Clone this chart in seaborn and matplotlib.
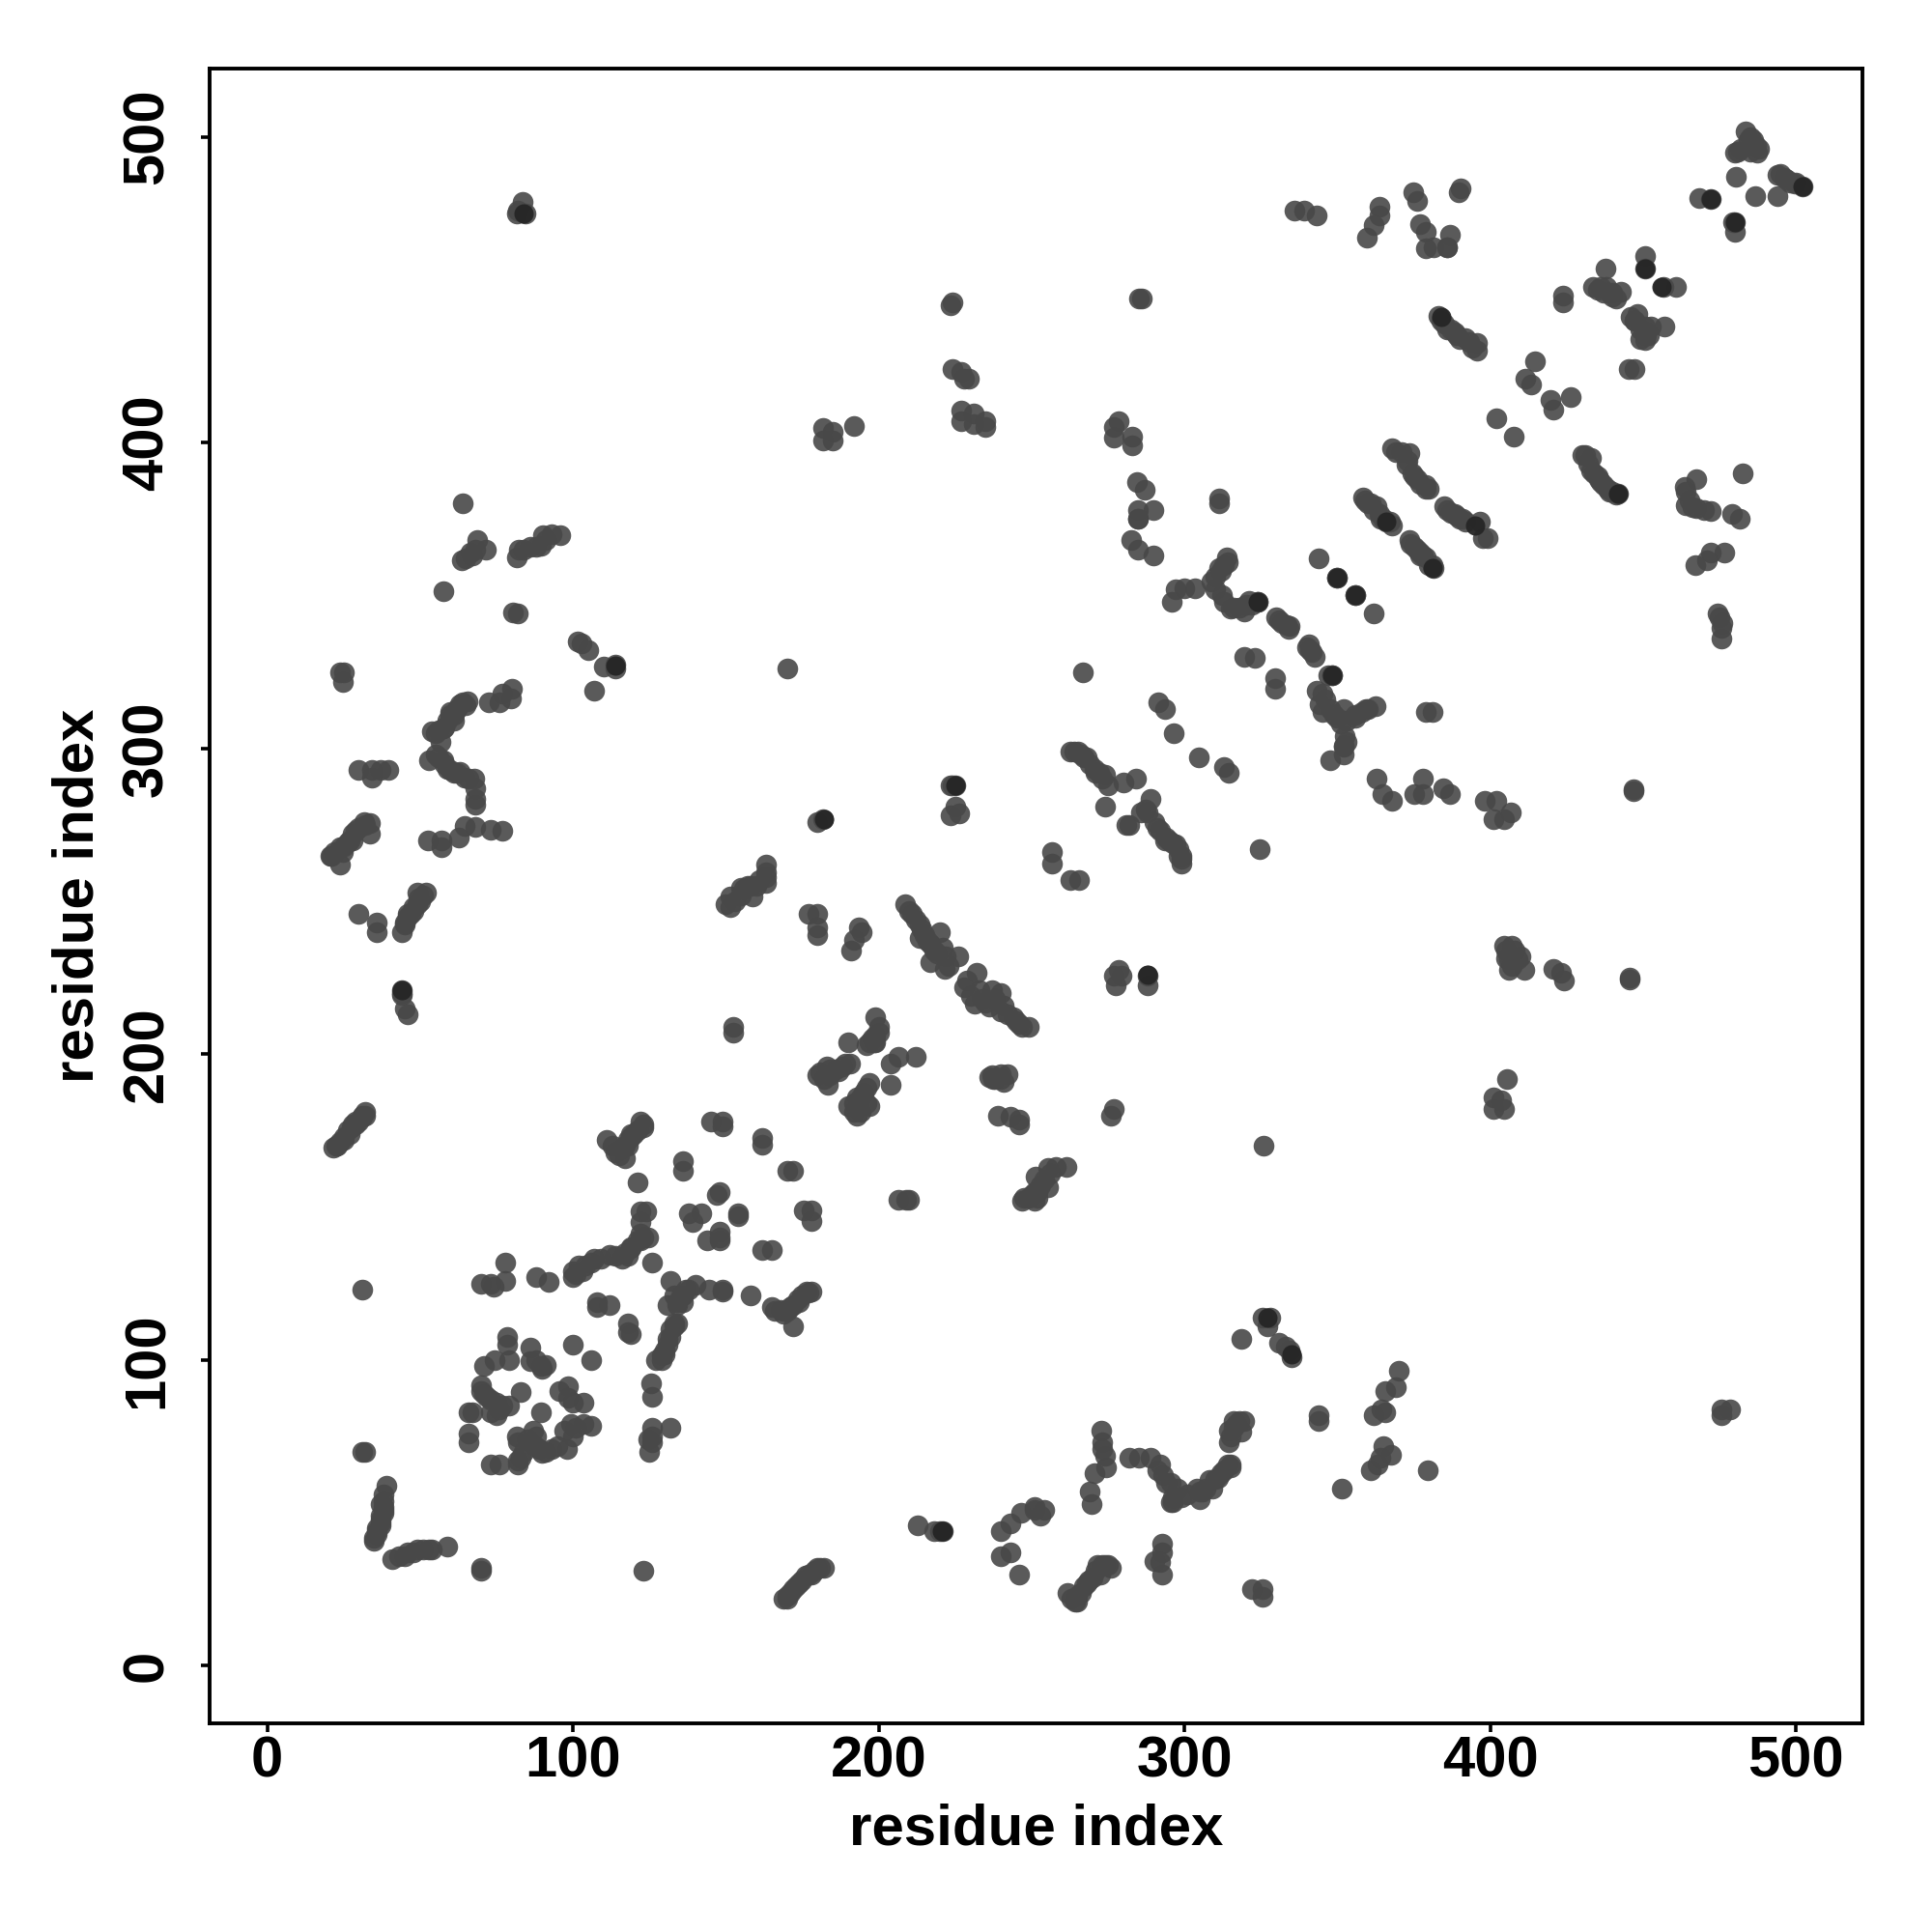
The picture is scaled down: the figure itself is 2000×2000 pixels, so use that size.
import matplotlib
matplotlib.use("Agg")
import matplotlib.pyplot as plt
import pandas as pd
import seaborn as sns

# contacts, (residue i, residue j), grouped by region
contacts_lower_left = [
(39,59),(38,56),(38,54),(38,52),(38,50),(37,53),(37,48),(37,46),(36,44),(35,42),(35,41),
(41,35),(43,36),(45,36),(46,37),(48,37),(49,38),(51,38),(53,38),(54,38),(59,39),
(70,31),(70,32),(31,70),(32,70),(123,31),(31,123),
(78,132),(70,125),(73,125),(78,126),(74,124),(88,127),(92,125.5),
(100,129),(100,127),(102,131),(107,133),(112,134.5),(118,134),(119,136.5),(121,139),(124.5,140),(126,132),
(122,148.5),(124,148.5),(122,145),(122,141.5),(121,158),
(111,172),(116,169),(117,166),(118,172),(120,174),(122,178),(123,176),(119,173),(123,177),
(149,178),(145,178),(149,176.5),(162,172.5),(162,170.5),(136,165),(136,162),(172,162),(170,162),
(148,155),(147,154),(154,148),(154,147),(138,148),(142,148),(139,145),(148,142),(148,139),(144,139),(148,140),
(162,136),(165,136),(178,149),(175.5,149),(178,145.5),
(209,152.5),(206.5,152.5),(210,152.5),
(132,126),(133,121),(131,118),(134,119),(135.5,121),(137,123),(140,124.5),(144.5,123),(149,122.5),(149,123),(158,121),
(134,112),(133,112),(132,107.5),(131,105),(129,101.5),(127,100),(130,102),
(125.5,92.5),(126,88),(132,78),(126,78),(124.5,74),(126,73),(125,70),(126,75),
(108,119),(108,117.5),(112,118),(118,112),(119,108.5),(118,109),
(165,117.5),(168,116.5),(169,115),(171,117.5),(173.5,120),(176.5,122.5),(178,122.5),(172,111),
(78.5,107.7),(78.5,105),(79,100),(74.5,100),(71,98),(70,91.7),(71,89),(75,86),(79,85),(83,89.5),
(66,83),(67,83),(75,82),(73,83),(66,76),(66,73),(73,66),(76,66),(82,67),(82,66),
(81.5,75),(82,73),(87,77),(89.5,83),(87.5,72),(90,69.5),(93,71),(98,71),(100,75),(99.5,79),(103.5,79),(106,78.5),
(86,104),(86,99.5),(89.5,98),(91,98.5),(100,105),(106,100),(95.5,90),(98.5,91.5),(98.5,87.5),(103.5,86),(100,86),
]

contacts_centre = [
(199,212),(200,207),(197,204),(198.5,204),(190,204),(206.5,199),(204,197),(212,199),(204,190),
(190.5,197),(187,194.5),(183,196),(180,193),(183.5,190),(197,190.5),(195,187.5),(193,186),(197,183),(190,183),(193,180),(192,184),
(240,193.5),(236,192.5),(242,193.5),(237.5,192),(239,180),(243,179.5),(246,178.5),(246,177),
(247.5,153),(251,152),(251.4,160),(250,154),(252,155),(255.5,162.7),(258,163),(261.3,163),(255.5,156.5),
(277,182),(276,180),
(177,246),(180,246),(180,241.5),(180,239),(193.5,241.5),(194.5,240),(192,237.5),(191,234),
(208.7,249),(211,246),(213.5,242.5),(213.5,238),(217,236),(217,230),(220,240),(221,235),(221.5,228),(226,232),
(232,226.5),(228,222),(231.5,216.5),(233,221),(237,221),(240,220),(236,215.5),(240,214),(244,212),(249,209),(246,210),
(152.5,209),(152.5,207),(44,221),(44,220),(44,219.5),(45,215),(46,213),
(30,246),(36,243),(36,240),(49.5,251),(46,246),(44,240),(48,248),(52,253),(45,242.5),
(21.6,169.4),(24,171.5),(26.5,175),(29,178),(32,181),(31,179.5),(27.5,176),
(212.7,46),(220,44),(221,44),(218,44),
(169,22),(171,24),(174,27),(176,29.6),(180,32),(182,32),(178,30),
(240,44),(243,46.5),(246.5,50),(251,52),(240,36),(243,37),(246,30),(251,51),(254,51),(253,49),
]

contacts_lower_right = [
(279.5,225.7),(277,225.7),(277.6,222.5),(288,225.7),(288,222.5),(278.5,227.5),
(404.5,235.5),(407,235.5),(406,227.5),(410,232),(411,227.5),(405,231.5),(420.5,228),(423,226.5),(424,224),(445.5,225),(445.5,224.5),
(405.5,192),(401,186),(401,182),(404.5,182),(403.5,185),(326,170),
(325.5,114),(328,114),(327,111),(318.6,107),(331,105.5),(333,104.5),(334.5,103),(335,101),(344,82),(344,80),
(370,96.5),(369,91),(365.5,90),(364.5,84),(362,82),(365.5,83),(365,72),(367.5,69),(363,66),(361,64),(364,68),
(379.7,64),(351.3,58),(475.5,84),(475.5,82),(478.5,84),
(272.7,77),(273,73),(274,68.7),(274.5,65),(270.6,63),(273,71),
(282,68),(285,68),(289,68),(291,64),(293,62.5),(295.4,60),(297.7,58),(295.4,53.6),(296.3,53.6),
(304,58),(305,54.5),(308,60.7),(311,61.5),(314,66),(315,66),(306,57),(309,58),
(314.6,73),(314.6,77),(316,80),(319.4,80),(318.5,76.6),(269,57),(269.7,53),
(292.7,40),(292.7,37),(292,34),(292.7,30),(290,34.4),
(261.7,24),(264.4,21),(266,24),(268.8,28),(271.5,33),(274,33),(276,32),(272.3,30),
(322,25),(325.5,25),(325.5,22.5),
]

contacts_upper_left = [
(83.7,478.7),(82,476),(84.5,475),(81.5,475),(224,446),(223.4,445),
(224,424),(227,423),(228,421),(229.6,421),(227,410.4),(227,407),(231,409.5),(231,406),(235,407),(235,405),
(181.7,404.7),(185,403.6),(181.7,400.6),(185,400.6),(192,405.4),
(64,380),(68.7,368),(71.7,365),(66.4,364),(63.7,361.6),(65,362),
(82.3,365),(81.8,362.5),(89.4,366.4),(90.3,369.6),(96,369.6),(93,370),
(57.8,351.5),(80.5,344.4),(82,344),(101.5,335),(102.7,334.5),(105,332),(110,326.7),(114,327.4),(114,326),
(106.8,319),(170,326),(23.8,325),(25,325),(24.8,321.7),
(80,319.5),(77,318),(79.7,316.4),(76,315),(72.6,315),
(65.5,315.5),(63,314.6),(60,312),(61,309),(57.5,306.6),(54,305.7),(56.6,302),
(53,296),(57.5,296),(59,293.3),(63,292.4),(64.6,290.6),(67.8,290),(68,283.5),(68,281.7),
(30,293),(34.4,293),(34.4,290.6),(37,293),(39.7,293),
(52.7,270),(57,270),(57,267.6),(62.8,270.8),(64.6,274.7),(68,274.3),(73,273.4),(77,273),
(31.8,276),(33.5,275.5),(33.5,272),(29,273),(26.4,269.4),(23.8,267.6),(20.6,265),(24,262),(24.7,266),
(163,262),(163,259.6),(163,256),(157,255),(151.5,251.6),(151.5,248),(155,254.3),(158.6,251.6),
(224,288),(225,288),(223.4,288),(181.7,276.8),(180,276),(225,281),(223.4,278),(226.4,278.8),
]

contacts_upper_right = [
(483.5,501.8),(486,497.3),(487.4,494.7),(480,494.7),(484.4,499),
(480.3,487),(494,487.6),(496,486.7),(499.5,484.6),(502,483.7),(494,480.5),(486.7,480.5),
(468.4,480),(472,479.6),(479.4,472),(480,472),(480,469),
(450.7,461),(450.7,457),(456.5,451),(460.8,451),
(437.7,457),(433.5,451),(438,451),(440,447.7),(442.7,449.4),(423.7,448),(423.7,446),
(448,442),(447,439.7),(450.7,438),(457,438),(452.4,438),(450.7,433.5),(445.3,424),(447,424),
(383,441.4),(385,438.8),(388.5,436),(392,434.3),(395.7,432.6),(395.7,430),
(414.6,426.7),(411.6,421),(413.4,419),(419.6,414),(420.5,410.8),(426.4,415),(401.9,408),(407.7,402),
(368,398.3),(373.5,396.6),(374.4,390),(377,386.4),(378.8,385),(372.6,392.7),
(358.4,382),(362.8,379.3),(363.7,376.7),(367.3,374),(361,380),
(385,379.3),(388.5,376.7),(391,375),(396.5,374),(397.4,368.7),(399,368.7),
(373.5,368),(376,365),(378.8,362.5),(381.5,359),(377,363),
(430,396),(433,395),(433,391),(435.6,388),(438.2,385),(441.8,383.3),(441,383),
(482.6,390),(467.5,388),(463.6,385.6),(464,379.4),(467.5,378.5),(472,377.6),(479,376.7),(481.7,375),
(476.4,364),(472,364),(470.7,361.6),(467,360),(474.3,344),(475.5,339.4),(475.5,336),
(390.3,483),(389.5,482),(336,476),(339,476),(343.3,474.3),
(363.7,477),(363.7,474.3),(362,471),(359.6,467),
(374.7,482),(376,479),(377,471.6),(378.8,469),(378.8,463.6),(381.5,464),(386,464),(386,464),(386.8,468),
(286,447),(285,447),(278.5,407),(276.8,405),(276.8,401.5),(283,402),(283,399),
(284.4,387),(287,384.7),(311.4,381.7),(311.4,380),(284.8,378),(289.7,378),(284.8,375),(284.8,375),
(282.6,368),(284.8,365),(289.7,363),
(343.7,362),(349.9,355.7),(349.9,355.7),(355.7,350),(355.7,350),(362,344),
(313.7,362.5),(311.4,359),(308.7,354.5),(303.4,352.4),(299.8,352.4),(297.2,352),(295.8,348),
(312.3,350),(315,345.6),(319.4,344.8),(321,348.3),(323.8,348),(323.8,348),
(330,343),(333.5,340.3),(334.5,340),(340.6,334),(341.5,331.4),(342.5,330),
(319.4,330),(323,329.7),(329.5,323),(329.7,319.6),(266.7,325),
(348.3,323.8),(347,323.8),(348.3,323.8),(343.3,319),(344.2,314.6),(347.7,313),(352.2,313),(355.7,310),(359.3,313),(362.5,313.7),
(352.5,304),(352.2,300.4),(347.7,296),(352.2,298),(381,312),(379,312),
(291.5,315),(293.6,313),(296.6,305),(304.6,297),(312.8,294),(314.6,292),
(362.8,290),(364.6,285),(367.8,283),(378,290),(375.2,285),(378,285),(384.5,287),(386.8,285),
(398.3,283),(401.9,283),(401,277),(404.5,277),(406.8,279),(446.8,286.5),(446.8,286),
(262.6,299),(265.2,299),(268,297),(270.6,293.3),(274,291.5),(275,288),(280,289),(284,290),(274,281),
(289,283.5),(287.4,280),(285.6,279),(281,275),(282,275),
(291,274),(293.6,270),(297,268.5),(299,265),(299,262.3),(324.7,267),
(256.7,266),(256.7,262.2),(262.6,257),(265.6,257),
]

# further contacts inside the dense runs, where discs overlap
contacts_dense_runs = [
(36,43),(37,47),(37,49),(38,51),(36,45),
(23,170),(25,173),(28,177),(30,178),(31,180),(32,180),(25,172),(22.5,170),(27,174),(29,177),
(170,23),(172,25),(173,26),(175,28),(177,30),(179,31),(181,32),(170,22),
(263,22),(265,23),(267,26),(268,27),(270,29),(271,31),(273,33),(265,21),(275,33),
(210,247),(212,244),(214,241),(215,239),(216,237),(218,234),(219,233),(222,232),(223,229),(229,224),
(230,219),(234,218),(235,217),(238,218),(241,216),(242,213),(245,211),(247,209),
(384,440),(386,437),(387,437),(389,435),(390,434),(393,433),(394,431),
(359,381),(360,380),(362,378),(364,375),(365,375),(366,374),(368,373),
(369,397),(371,397),(373,394),(375,389),(376,388),(379,386),(380,385),
(374,367),(375,366),(377,364),(378,363),(380,360),(381,360),
(386,378),(387,377),(389,376),(390,375),(392,374),
(431,396),(432,393),(434,390),(435,389),(436,387),(437,386),(439,384),(440,384),
(264,299),(266,298),(267,297),(269,295),(271,292),(272,292),(273,290),
(288,279),(290,276),(292,273),(294,271),(295,270),(296,269),(298,267),(299,264),(298,265),
(55,298),(56,297),(58,295),(60,293),(61,292),(62,292),(66,290),(68,287),
(55,305),(56,306),(58,307),(59,309),(60,311),(62,313),(64,315),(61,311),(65,314),
(21,265),(22,266),(25,268),(27,270),(28,272),(30,274),(32,275),(28,270),
(45,243),(46,245),(47,246),(48,247),(49,249),(50,250),(51,252),(49,253),
(150,249),(153,250),(155,252),(156,254),(158,255),(160,255),(161,257),(163,258),
(310,356),(312,358),(313,360),(314,361),(310,352),(313,348),(316,346),(318,346),(320,347),(322,347),
(345,318),(346,316),(345,312),(349,311),(350,310),(351,308),(353,309),(356,311),(358,312),(360,313),(353,302),(352,301),
(331,342),(332,341),(334,339),(340,333),(341,332),
(292,66),(294,60),(296,55),(305,57),(307,58),(310,61),(312,63),(313,64),(315,65),(299,55),(301,56),
(315,75),(316,78),(317,79),(318,80),
(130,103),(129,100),(131,107),(132,110),(133,111),(134,118),(136,121),(138,123),(136,119),
(70,90),(72,88),(73,87),(76,84),(77,85),(88,75),(85,74),(84,70),(83,68),(89,71),(91,70),(95,72),(97,77),(101,78),(88,100),(90,97),
(101,128),(103,129),(104,131),(106,132),(109,133),(114,134),(116,133),(117,135),(119,137),(122,139),(123,140),
(113,170),(114,168),(115,167),(117,170),(118,170),(121,175),(119,174),
(166,116),(170,116),(172,118),(174,119),(175,121),(177,122),(169,116),
(181,194),(182,192),(184,193),(186,195),(188,196),(189,197),(184,195),
(194,186),(196,189),(192,181),(194,181),(196,184),
(198,205),(199,206),(200,209),(199,204),(196,203),
(67,363),(68,365),(84,365),(86,366),(88,366),(91,368),
(485,500),(486,499),(487,497),(488,496),(481,495),(482,496),(485,495),
(495,488),(497,486),(498,485),(500,485),
(435,450),(436,451),(439,449),(440,449),(441,447),(437,449),
(446,441),(449,437),(451,436),(449,434),(451,435),(447,440),(452,435),
(405,234),(408,234),(406,231),(407,229),(409,231),
(464,384),(465,381),(466,379),(470,378),(475,343),(476,341),
(247,152),(249,153),(251,155),(253,157),(254,159),(256,161),(252,153),
(238,192),(240,192),(241,191),(237,193),
]

# contacts that show as the darkest discs
contacts_dark = [
(44,221),(349.9,355.7),(355.7,350),(441.8,383.3),(348.3,323.8),(220.5,44),(323.8,348),(225,288),
(114,327),(327,114),(480,472),(472,479.6),(84,475),(502,483.7),(384,441),(335,102),(221,44),(182,277),
(450.7,457),(456,451),(288,226),(366,374),(381,359),(395,373),
]

tick_values = [0, 100, 200, 300, 400, 500]
axis_label = "residue index"

pairs = (contacts_lower_left + contacts_centre + contacts_lower_right
         + contacts_upper_left + contacts_upper_right + contacts_dense_runs)
df = pd.DataFrame(pairs, columns=["i", "j"])
df_dark = pd.DataFrame(contacts_dark, columns=["i", "j"])

sns.set_theme(style="white")
plt.rcParams["font.family"] = ["Liberation Sans", "DejaVu Sans"]

fig = plt.figure(figsize=(10, 10), dpi=200, facecolor="white")
ax = fig.add_axes([217/2000, (2000-1784)/2000, 1711/2000, 1713/2000])
sns.scatterplot(data=df, x="i", y="j", ax=ax, color="#484848", alpha=0.9,
                s=60, linewidth=0, legend=False)
sns.scatterplot(data=df_dark, x="i", y="j", ax=ax, color="#262626", alpha=0.95,
                s=52, linewidth=0, legend=False)
ax.set_xlim(-18.8, 521.7)
ax.set_ylim(-18.8, 522.3)
ax.set_xticks(tick_values)
ax.set_yticks(tick_values)
ax.set_xticklabels([str(v) for v in tick_values], fontsize=21.5, fontweight="bold")
ax.set_yticklabels([str(v) for v in tick_values], fontsize=21.5, fontweight="bold",
                   rotation=90, va="center")
ax.tick_params(axis="both", length=3.4, width=1.3, color="black", labelcolor="black",
               bottom=True, left=True)
ax.tick_params(axis="x", pad=1.1)
ax.tick_params(axis="y", pad=9.7)
ax.set_xlabel(axis_label, fontsize=21.6, fontweight="bold", color="black", labelpad=5.4)
ax.set_ylabel(axis_label, fontsize=21.6, fontweight="bold", color="black", labelpad=6)
for spine in ax.spines.values():
    spine.set_visible(True)
    spine.set_color("black")
    spine.set_linewidth(1.4)
fig.savefig("out.png", dpi=200, facecolor="white")
